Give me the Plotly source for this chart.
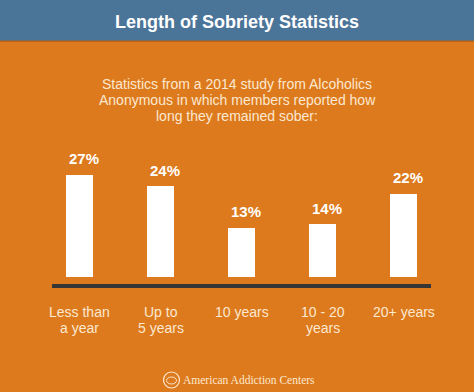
import plotly.graph_objects as go

categories = ["Less than<br>a year", "Up to<br>5 years", "10 years", "10 - 20<br>years", "20+ years"]
values = [27, 24, 13, 14, 22]
value_labels = ["27%", "24%", "13%", "14%", "22%"]
title_text = "Length of Sobriety Statistics"
subtitle_lines = [
    "Statistics from a 2014 study from Alcoholics",
    "Anonymous in which members reported how",
    "long they remained sober:",
]
footer_text = "American Addiction Centers"

W, H = 474, 392
ORANGE = "#dc7a1d"
BLUE = "#4b7499"
CREAM = "#fde8d0"
FONT = "Liberation Sans, Arial, sans-serif"

# axis calibration
px_per_cat = 81.1
x0 = -79.5 / px_per_cat
x1 = x0 + W / px_per_cat
px_per_pct = 3.78
base_px = 277
y0 = -(H - base_px) / px_per_pct
y1 = base_px / px_per_pct

xs = list(range(len(categories)))

fig = go.Figure()
fig.add_trace(go.Bar(
    x=xs, y=values, width=0.333,
    marker=dict(color="#ffffff", line=dict(width=0)),
    hoverinfo="skip",
))

def ypx(p):
    return (base_px - p) / px_per_pct

def xpx(p):
    return x0 + p / px_per_cat

shapes = []
# header band
shapes.append(dict(type="rect", xref="paper", yref="paper", x0=0, x1=1,
                   y0=1 - 41 / H, y1=1, fillcolor=BLUE, line=dict(width=0), layer="below"))
shapes.append(dict(type="rect", xref="paper", yref="paper", x0=0, x1=1,
                   y0=1 - 42 / H, y1=1 - 40.5 / H, fillcolor="#b8621a", line=dict(width=0), layer="below"))
# baseline
shapes.append(dict(type="rect", xref="x", yref="y", x0=xpx(52), x1=xpx(431),
                   y0=ypx(288), y1=ypx(284), fillcolor="#353535", line=dict(width=0)))
# footer logo circle
shapes.append(dict(type="circle", xref="paper", yref="paper",
                   x0=163.5 / W, x1=179.5 / W, y0=1 - 388 / H, y1=1 - 372 / H,
                   line=dict(color=CREAM, width=1.2)))
shapes.append(dict(type="circle", xref="paper", yref="paper",
                   x0=166.5 / W, x1=176.5 / W, y0=1 - 384 / H, y1=1 - 377 / H,
                   line=dict(color=CREAM, width=1)))

annotations = []
annotations.append(dict(text="<b>" + title_text + "</b>", x=0.5, y=1 - 22 / H,
                        xref="paper", yref="paper", showarrow=False,
                        font=dict(family=FONT, size=18, color="#ffffff"),
                        xanchor="center", yanchor="middle"))
for i, line in enumerate(subtitle_lines):
    annotations.append(dict(text=line, x=0.5, y=1 - (84 + 16 * i) / H,
                            xref="paper", yref="paper", showarrow=False,
                            font=dict(family=FONT, size=14, color=CREAM),
                            xanchor="center", yanchor="middle"))
for xi, v, lab in zip(xs, values, value_labels):
    annotations.append(dict(text="<b>" + lab + "</b>", x=xi, y=v, xref="x", yref="y",
                            showarrow=False, xshift=4, yshift=16,
                            font=dict(family=FONT, size=15, color="#ffffff"),
                            xanchor="center", yanchor="middle"))
for xi, cat in zip(xs, categories):
    for j, line in enumerate(cat.split("<br>")):
        annotations.append(dict(text=line, x=xi, y=ypx(312 + 16 * j), xref="x", yref="y",
                                showarrow=False,
                                font=dict(family=FONT, size=14, color=CREAM),
                                xanchor="center", yanchor="middle"))
annotations.append(dict(text=footer_text, x=181 / W, y=1 - 380 / H, xref="paper", yref="paper",
                        showarrow=False, xanchor="left", yanchor="middle",
                        font=dict(family="Liberation Serif, Times New Roman, serif", size=11.5, color=CREAM)))

fig.update_layout(
    width=W, height=H,
    margin=dict(l=0, r=0, t=0, b=0),
    paper_bgcolor=ORANGE, plot_bgcolor="rgba(0,0,0,0)",
    showlegend=False,
    xaxis=dict(range=[x0, x1], visible=False, fixedrange=True),
    yaxis=dict(range=[y0, y1], visible=False, fixedrange=True),
    shapes=shapes, annotations=annotations,
    bargap=0,
)

fig.write_html("out.html", config={"displayModeBar": False},
               post_script="document.body.style.margin='0';document.body.style.overflow='hidden';")
